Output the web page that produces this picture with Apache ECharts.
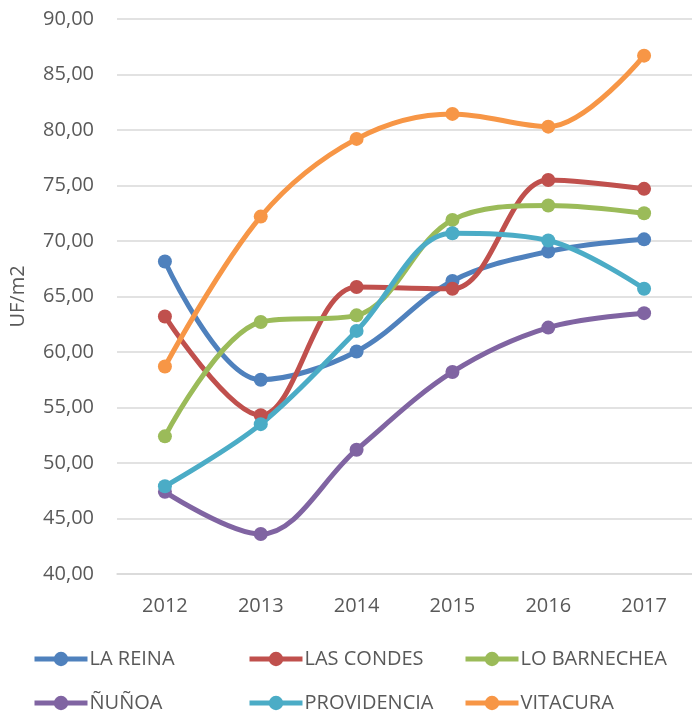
<!DOCTYPE html>
<html><head><meta charset="utf-8">
<script src="https://cdn.jsdelivr.net/npm/echarts@6/dist/echarts.min.js"></script>
<style>html,body{margin:0;padding:0;background:#fff}#c{width:692px;height:715px}</style>
</head><body><div id="c"></div>
<script>
const years = ['2012','2013','2014','2015','2016','2017'];
const laReina = [68.15, 57.5, 60.05, 66.4, 69.05, 70.15];
const lasCondes = [63.2, 54.3, 65.85, 65.7, 75.5, 74.7];
const loBarnechea = [52.4, 62.7, 63.3, 71.9, 73.2, 72.5];
const nunoa = [47.4, 43.6, 51.2, 58.2, 62.2, 63.5];
const providencia = [47.9, 53.5, 61.9, 70.7, 70.05, 65.7];
const vitacura = [58.7, 72.2, 79.2, 81.45, 80.3, 86.7];
const names = ['LA REINA','LAS CONDES','LO BARNECHEA','ÑUÑOA','PROVIDENCIA','VITACURA'];
const values = [laReina, lasCondes, loBarnechea, nunoa, providencia, vitacura];
const colors = ['#4F81BD','#C0504D','#9BBB59','#8064A2','#4BACC6','#F79646'];
const font = 'Open Sans';
const legendPos = [[32,649],[247,649],[463,649],[32,693],[247,693],[463,693]];
const chart = echarts.init(document.getElementById('c'));
chart.setOption({
  animation:false,
  color: colors,
  textStyle:{fontFamily:font},
  grid:{left:117,right:-8,top:19,bottom:141},
  legend: names.map((n,i)=>({
    data:[n], left:legendPos[i][0], top:legendPos[i][1],
    itemWidth:53, itemHeight:18, padding:0,
    lineStyle:{width:5},
    textStyle:{fontFamily:font,fontSize:20,color:'#595959',padding:[0,0,0,-3]}
  })),
  xAxis:{type:'category',data:years,boundaryGap:true,
    axisLine:{lineStyle:{color:'#D9D9D9',width:1.5}},axisTick:{show:false},
    axisLabel:{fontFamily:font,fontSize:20,color:'#595959',margin:22}},
  yAxis:{type:'value',min:40,max:90,interval:5,
    name:'UF/m2',nameLocation:'middle',nameGap:89,
    nameTextStyle:{fontFamily:font,fontSize:20,color:'#595959'},
    axisLabel:{fontFamily:font,fontSize:20,color:'#595959',margin:23,
      formatter:v=>v.toFixed(2).replace('.',',')},
    splitLine:{lineStyle:{color:'#D9D9D9',width:1.5}}},
  series: names.map((n,i)=>({
    name:n,type:'line',data:values[i],smooth:0.35,
    symbol:'circle',symbolSize:14,
    lineStyle:{width:5,color:colors[i]},
    itemStyle:{color:colors[i]}
  }))
});
</script></body></html>
